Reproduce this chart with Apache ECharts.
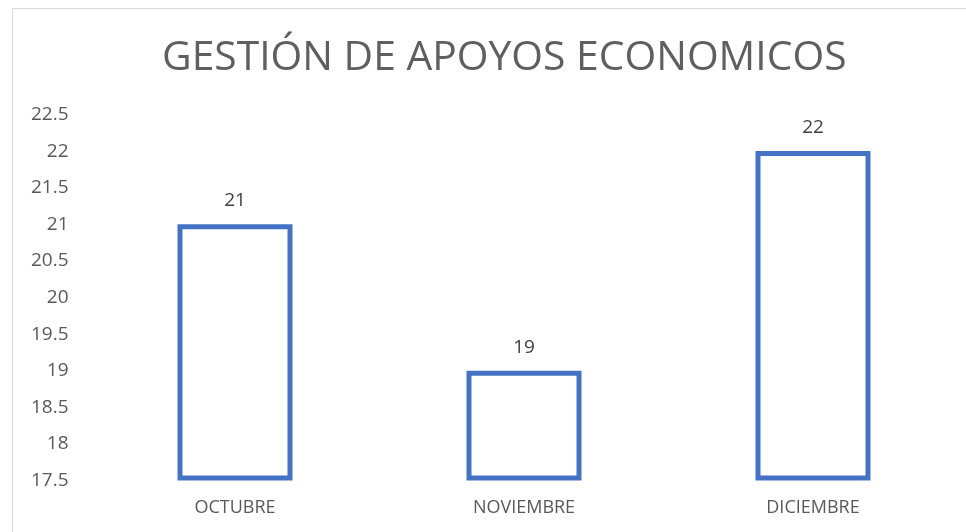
<!DOCTYPE html>
<html>
<head>
<meta charset="utf-8">
<style>
  html, body { margin: 0; padding: 0; background: #fff; }
  #frame { position: absolute; left: 12px; top: 8px; width: 960px; height: 530px;
           border-left: 1px solid #d9d9d9; border-top: 1px solid #d9d9d9; }
  #main { position: absolute; left: 0; top: 0; width: 966px; height: 532px; }
</style>
<script src="https://cdn.jsdelivr.net/npm/echarts@6/dist/echarts.min.js"></script>
</head>
<body>
<div id="frame"></div>
<div id="main"></div>
<script>
  var categories = ['OCTUBRE', 'NOVIEMBRE', 'DICIEMBRE'];
  var values = [21, 19, 22];
  var yMin = 17.5;
  var yMax = 22.5;
  var yStep = 0.5;

  var myChart = echarts.init(document.getElementById('main'));

  // las barras arrancan en el minimo del eje: base invisible + parte visible apilada
  var baseData = values.map(function () { return yMin; });
  var showData = values.map(function (v) { return v - yMin; });

  var option = {
    backgroundColor: 'transparent',
    textStyle: { fontFamily: 'Open Sans' },
    title: {
      text: 'GESTIÓN DE APOYOS ECONOMICOS',
      left: 157,
      top: 33,
      textStyle: { fontSize: 40.8, fontWeight: 'normal', color: '#5f5f5f', fontFamily: 'Open Sans' }
    },
    grid: { left: 90.5, right: 8.5, top: 114.5, bottom: 51.5 },
    xAxis: {
      type: 'category',
      data: categories,
      axisLine: { show: false },
      axisTick: { show: false },
      axisLabel: { color: '#595959', fontSize: 18, margin: 18 }
    },
    yAxis: {
      type: 'value',
      min: yMin,
      max: yMax,
      interval: yStep,
      axisLine: { show: false },
      axisTick: { show: false },
      splitLine: { show: false },
      axisLabel: { color: '#595959', fontSize: 19, margin: 22 }
    },
    series: [{
      type: 'bar',
      stack: 'total',
      silent: true,
      barWidth: 115,
      data: baseData,
      itemStyle: { color: 'transparent' }
    }, {
      type: 'bar',
      stack: 'total',
      clip: false,
      barWidth: 115,
      data: showData,
      itemStyle: { color: 'rgba(255,255,255,0)', borderColor: '#4472C4', borderWidth: 5 },
      label: {
        show: true,
        position: 'top',
        distance: 14,
        color: '#404040',
        fontSize: 19,
        formatter: function (p) { return values[p.dataIndex]; }
      }
    }]
  };

  myChart.setOption(option);
</script>
</body>
</html>
